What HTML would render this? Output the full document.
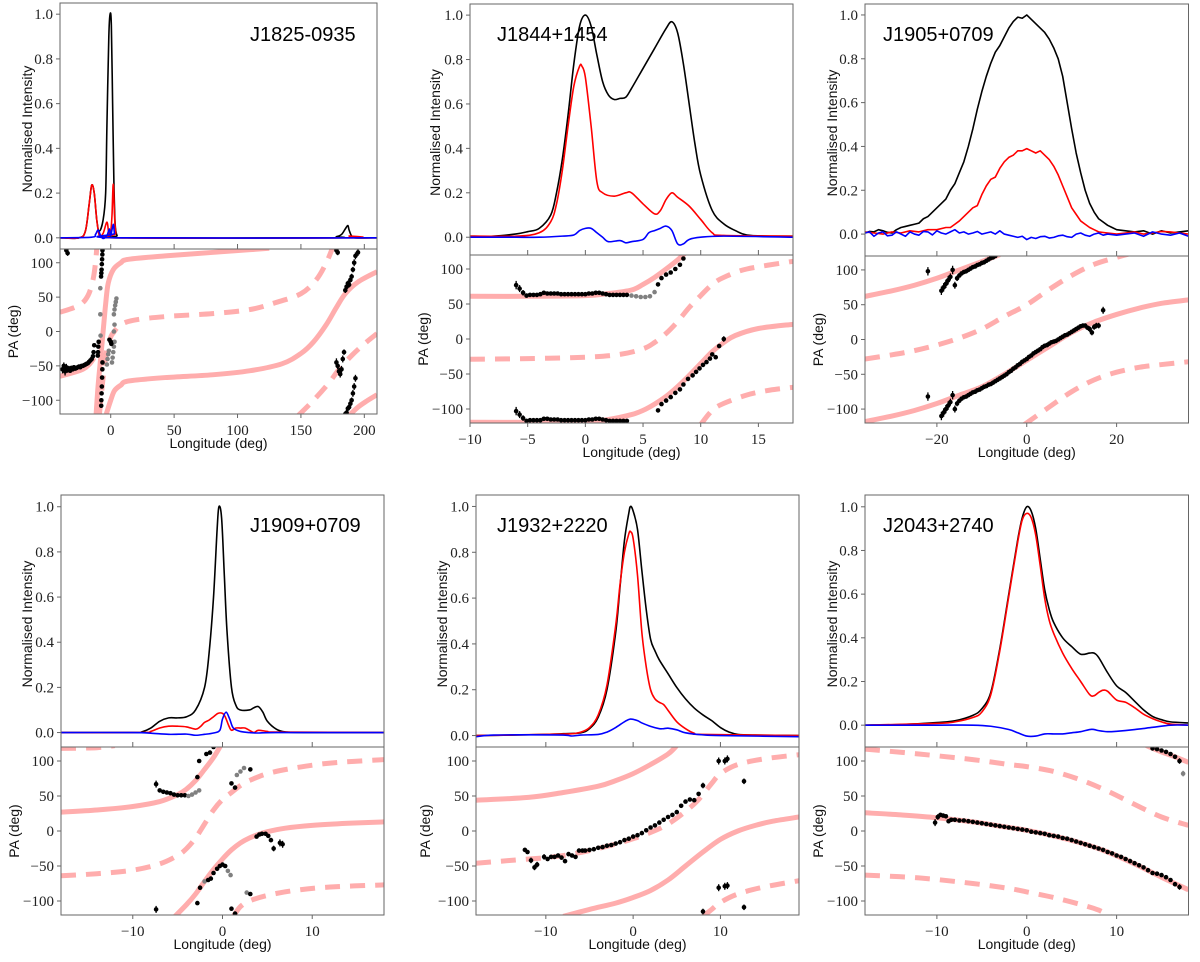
<!DOCTYPE html>
<html><head><meta charset="utf-8"><title>Pulsar polarisation profiles</title>
<style>
html,body{margin:0;padding:0;background:#fff;}
svg{display:block;}
.tick{font-family:"Liberation Serif",serif;font-size:15px;fill:#222;}
.lab{font-family:"Liberation Sans",sans-serif;font-size:14px;fill:#111;}
.ttl{font-family:"Liberation Sans",sans-serif;font-size:20px;fill:#000;}
</style></head>
<body>
<svg id="fig" width="1200" height="962" viewBox="0 0 1200 962" xmlns="http://www.w3.org/2000/svg"></svg>
<script>
// ---------- shared axis ticks ----------
const intensityTicks = [0, 0.2, 0.4, 0.6, 0.8, 1.0];
const paTicks = [-100, -50, 0, 50, 100];
const pulsarNames = ["J1825-0935","J1844+1454","J1905+0709","J1909+0709","J1932+2220","J2043+2740"];
const xTicks1 = [0,50,100,150,200];
const xTicks2 = [-10,-5,0,5,10,15];
const xTicks3 = [-20,0,20];
const xTicks4 = [-10,0,10];
const xTicks5 = [-10,0,10];
const xTicks6 = [-10,0,10];

// ---------- Panel 1: J1825-0935 ----------
const p1Total = [[-40,0],[-25,0],[-20,0.03],[-17,0.15],[-15,0.235],[-13,0.2],[-11,0.08],[-9,0.03],[-6,0.08],[-4,0.2],[-3,0.5],[-1.5,0.9],[-0.5,1.0],[0.5,0.95],[1.5,0.6],[2.5,0.25],[3.5,0.06],[5,0.01],[7,0],[170,0],[178,0.005],[182,0.015],[185,0.04],[187,0.055],[188,0.035],[190,0.008],[193,0],[210,0]];
const p1Linear = [[-40,0],[-25,0],[-20,0.03],[-17,0.15],[-15,0.235],[-13,0.2],[-11,0.08],[-9,0.01],[-6,0.02],[-3,0.07],[-1.5,0.02],[0,0.03],[1,0.1],[2,0.24],[3,0.1],[4,0.02],[6,0],[185,0],[188,0.008],[192,0],[210,0]];
const p1Circ = [[-40,0],[-15,0.003],[-12,0.015],[-10,0.035],[-8,0.01],[-6,-0.003],[-3,0.01],[-1,0.04],[0,0.01],[2,0.06],[3,0.02],[5,0],[210,0]];
const p1FitSolid = [
 [[-40,-65],[-30,-60],[-22,-55],[-17,-48],[-13,-38]],
 [[-11.5,-120],[-10,-80],[-8,-40],[-6,0],[-4,40],[-2,70],[2,90],[8,100],[14,105],[43,110],[80,115],[110,119],[125,121]],
 [[-3.5,-120],[0,-100],[3,-86],[8,-78],[14,-72],[43,-67],[80,-63],[110,-57],[135,-47],[150,-32],[160,-15],[170,10],[178,35],[185,55],[195,72],[210,87]],
 [[188,-122],[195,-110],[202,-101],[210,-92]]];
const p1FitDash = [
 [[-40,28],[-25,38],[-18,52],[-14,75],[-12,100],[-11,122]],
 [[-9,-122],[-7,-85],[-5,-50],[-3,-25],[0,-8],[2,-2],[8,10],[20,17],[45,22],[80,26],[110,32],[130,42],[150,55],[162,75],[170,100],[175,122]],
 [[148,-122],[160,-100],[172,-75],[180,-55],[190,-35],[200,-18],[210,-3]]];
const p1Points = [[-38,-55,6],[-37,-50,5],[-36,-58,6],[-35,-52,5],[-34,-56,4],[-33,-54,4],[-32,-57,3],[-31,-53,3],[-30,-55,3],[-29,-52,3],[-28,-54,2],[-27,-53,2],[-26,-52,2],[-25,-51,2],[-24,-52,2],[-23,-50,2],[-22,-50,2],[-21,-49,2],[-20,-48,2],[-19,-47,2],[-18,-46,2],[-17,-44,2],[-16,-42,2],[-15,-40,2],[-14,-36,2],[-13.5,-30,2],[-13,-20,2],[-35,118,5],[-34,114,4],
 [-6.5,118,3],[-6.6,112,3],[-6.8,105,3],[-7,98,3],[-7.2,90,3],[-7.4,85,3],[-7.6,80,3],[-8.2,63,2,1],[-8.2,25,2,1],[-8,-6,2,1],[-9.5,-15,2],[-9.8,-22,2],[-10,-30,2],[-10.2,-35,2],[-6.5,-45,2],[-6.6,-55,2],[-6.8,-67,2],[-7,-80,3],[-7.2,-90,3],[-7.4,-100,3],[-7.5,-108,3],
 [-3,-48,2,1],[-2.5,-40,2,1],[-2,-33,2,1],[-1.5,-28,2,1],[1,-45,2,1],[1.5,-38,2,1],[2,-30,2,1],[2.5,-22,2,1],[3,-15,2,1],[-1,-12,2],[0,-15,2],[0.5,-18,2],[2.5,25,2,1],[3,32,2,1],[3.5,38,2,1],[4,43,2,1],[4.5,48,2,1],[3,10,2,1],[2.5,0,2,1],
 [178,-45,6],[179,-50,5],[180,-58,5],[181,-62,5],[182,-55,5],[183,-40,5],[184,-30,4],[178,118,4],[179,115,4],
 [185,60,4],[186,65,4],[187,70,4],[188,68,4],[189,75,4],[190,80,4],[191,90,4],[192,100,5],[193,110,5],[195,115,5],
 [185,-120,4],[186,-118,4],[187,-112,4],[188,-110,4],[189,-105,4],[190,-100,4],[191,-90,5],[192,-80,5],[193,-68,5]];

// ---------- Panel 2: J1844+1454 ----------
const p2Total = [[-10,0.005],[-8,0.005],[-6,0.015],[-5,0.025],[-4,0.04],[-3,0.1],[-2.5,0.2],[-2,0.35],[-1.5,0.55],[-1,0.78],[-0.5,0.95],[0,1.0],[0.5,0.95],[1,0.82],[1.5,0.7],[2,0.64],[2.5,0.62],[3,0.625],[3.5,0.63],[4,0.67],[5,0.76],[6,0.85],[7,0.94],[7.5,0.97],[8,0.92],[8.5,0.78],[9,0.6],[9.5,0.42],[10,0.28],[11,0.12],[12,0.06],[13,0.03],[14,0.01],[16,0.005],[18,0.005]];
const p2Linear = [[-10,0.005],[-6,0.005],[-4,0.02],[-3,0.07],[-2.5,0.15],[-2,0.3],[-1.5,0.5],[-1,0.68],[-0.5,0.77],[-0.3,0.77],[0,0.72],[0.5,0.5],[1,0.25],[1.5,0.2],[2.5,0.185],[3.5,0.2],[4,0.2],[5,0.15],[6,0.105],[6.5,0.12],[7,0.17],[7.5,0.2],[8,0.18],[9,0.14],[10,0.08],[11,0.02],[12,0.008],[18,0.005]];
const p2Circ = [[-10,0],[-8,0],[-6,0],[-4,0],[-2,0.005],[-1,0.01],[-0.5,0.03],[0,0.04],[0.5,0.04],[1,0.02],[1.5,0],[2,-0.02],[3,-0.015],[3.5,-0.025],[4,-0.02],[5,-0.01],[5.5,0.02],[6,0.03],[6.5,0.04],[7,0.05],[7.5,0.03],[8,-0.03],[8.5,-0.03],[9,-0.01],[10,0],[12,0.005],[18,0]];
const p2FitSolid = [
 [[-10,61],[-5,61],[0,62],[2,65],[4,70],[5,78],[6,88],[7,100],[8,113],[8.6,122]],
 [[-10,-119],[-5,-119],[0,-118],[2,-115],[4,-108],[5,-102],[6,-93],[7,-82],[8,-68],[9,-52],[10,-35],[11,-18],[12,-5],[13,5],[15,15],[18,21]]];
const p2FitDash = [
 [[-10,-29],[-5,-28],[0,-26],[3,-22],[5,-14],[6,-5],[7,8],[8,25],[9,45],[10,62],[11,78],[12,88],[14,100],[18,111]],
 [[10,-122],[11,-102],[12,-92],[14,-80],[16,-73],[18,-69]]];
const p2Points = [[-6,77,6],[-5.7,72,5],[-5.4,66,4],[-5.1,62,3],[-4.8,63,2],[-4.5,63,2],[-4.2,63,2],[-3.9,64,2],[-3.6,66,2],[-3.3,65,2],[-3,65,2],[-2.7,65,2],[-2.4,65,2],[-2.1,64,2],[-1.8,64,2],[-1.5,64,2],[-1.2,64,2],[-0.9,64,2],[-0.6,64,2],[-0.3,64,2],[0,64,2],[0.3,65,2],[0.6,65,2],[0.9,66,2],[1.2,66,2],[1.5,65,2],[1.8,64,2],[2.1,63,2],[2.4,63,2],[2.7,63,2],[3,63,2],[3.3,63,2],[3.6,63,2],[4,62,2,1],[4.4,61,2,1],[4.8,60,2,1],[5.2,60,2,1],[5.6,61,2,1],[6,67,2,1],[6.3,78,2],[6.6,87,2],[7,92,2],[7.4,95,2],[7.8,100,2],[8.2,106,2],[8.5,115,2],
 [-6,-103,6],[-5.7,-108,5],[-5.4,-113,4],[-5.1,-117,3],[-4.8,-116,2],[-4.5,-116,2],[-4.2,-116,2],[-3.9,-116,2],[-3.6,-114,2],[-3.3,-114,2],[-3,-115,2],[-2.7,-115,2],[-2.4,-115,2],[-2.1,-116,2],[-1.8,-116,2],[-1.5,-116,2],[-1.2,-116,2],[-0.9,-116,2],[-0.6,-116,2],[-0.3,-116,2],[0,-116,2],[0.3,-115,2],[0.6,-115,2],[0.9,-114,2],[1.2,-114,2],[1.5,-115,2],[1.8,-116,2],[2.1,-117,2],[2.4,-117,2],[2.7,-117,2],[3,-117,2],[3.3,-117,2],[3.6,-117,2],
 [6.3,-102,2],[6.6,-93,2],[7,-88,2],[7.4,-83,2],[7.8,-77,2],[8.2,-72,2],[8.5,-65,2],[8.9,-57,2],[9.3,-52,2],[9.6,-47,2],[9.9,-42,2],[10.2,-37,2],[10.5,-33,2],[10.8,-28,2],[11,-22,2],[11.3,-26,2],[11.6,-10,3],[12,0,4]];

// ---------- Panel 3: J1905+0709 ----------
const p3Total = [[-36,0.005],[-35,0.012],[-34,0.01],[-33,0.02],[-32,0.015],[-31,0.008],[-30,0.005],[-29,0.02],[-28,0.03],[-27,0.035],[-26,0.04],[-25,0.045],[-24,0.05],[-23,0.07],[-22,0.08],[-21,0.1],[-20,0.12],[-19,0.14],[-18,0.16],[-17,0.2],[-16,0.23],[-15,0.28],[-14,0.33],[-13,0.4],[-12,0.48],[-11,0.57],[-10,0.65],[-9,0.72],[-8,0.78],[-7,0.83],[-6,0.86],[-5,0.9],[-4,0.94],[-3,0.97],[-2,0.99],[-1,0.985],[0,1.0],[1,0.98],[2,0.96],[3,0.94],[4,0.92],[5,0.89],[6,0.85],[7,0.8],[8,0.72],[9,0.6],[10,0.48],[11,0.37],[12,0.28],[13,0.2],[14,0.14],[15,0.1],[16,0.07],[17,0.055],[18,0.04],[19,0.03],[20,0.02],[22,0.015],[24,0.01],[26,0.015],[28,0.0],[30,0.015],[32,0.005],[34,0.01],[36,0.015]];
const p3Linear = [[-36,0.01],[-34,0.005],[-32,0.0],[-30,0.01],[-28,0.005],[-26,0.015],[-24,0.01],[-22,0.02],[-20,0.02],[-18,0.03],[-17,0.03],[-16,0.045],[-15,0.06],[-14,0.08],[-13,0.1],[-12,0.12],[-11,0.13],[-10,0.18],[-9,0.22],[-8,0.25],[-7,0.26],[-6,0.3],[-5,0.33],[-4,0.35],[-3,0.36],[-2,0.38],[-1,0.38],[0,0.39],[1,0.38],[2,0.37],[3,0.38],[4,0.36],[5,0.34],[6,0.31],[7,0.27],[8,0.22],[9,0.17],[10,0.12],[11,0.09],[12,0.06],[13,0.045],[14,0.03],[15,0.02],[16,0.01],[18,0.005],[20,0.0],[22,0.005],[24,0.01],[26,0.0],[28,0.005],[30,0.012],[32,0.01],[34,0.005],[36,0.0]];
const p3Circ = [[-36,0.005],[-35,0.01],[-34,-0.01],[-33,0.005],[-32,0.01],[-31,-0.008],[-30,-0.005],[-29,0.01],[-28,0.0],[-27,-0.01],[-26,0.01],[-25,0.0],[-24,-0.005],[-23,0.012],[-22,0.01],[-21,-0.004],[-20,0.015],[-19,0.005],[-18,0.0],[-17,0.01],[-16,0.02],[-15,0.005],[-14,0.01],[-13,0.0],[-12,0.005],[-11,0.012],[-10,0.0],[-9,0.005],[-8,0.01],[-7,0.0],[-6,0.015],[-5,0.0],[-4,-0.005],[-3,-0.01],[-2,-0.015],[-1,-0.01],[0,-0.025],[1,-0.015],[2,-0.02],[3,-0.012],[4,-0.01],[5,-0.018],[6,-0.015],[7,-0.008],[8,-0.005],[9,-0.012],[10,-0.015],[11,0.0],[12,0.005],[13,-0.005],[14,-0.01],[15,0.0],[16,0.005],[17,-0.005],[18,0.0],[20,-0.005],[22,0.0],[24,0.005],[26,-0.01],[28,0.01],[30,0.0],[32,-0.005],[34,0.005],[36,-0.01]];
const p3FitSolid = [
 [[-36,62],[-30,70],[-25,78],[-20,88],[-15,100],[-10,112],[-6,122]],
 [[-36,-118],[-30,-110],[-25,-102],[-20,-92],[-15,-80],[-10,-68],[-5,-50],[0,-30],[5,-10],[10,10],[15,25],[20,36],[25,45],[30,52],[36,57]]];
const p3FitDash = [
 [[-36,-28],[-30,-22],[-25,-16],[-20,-8],[-15,2],[-10,15],[-5,33],[0,50],[5,72],[10,92],[15,108],[20,118],[24,125]],
 [[-0.5,-122],[5,-97],[10,-75],[15,-58],[20,-47],[25,-40],[30,-36],[36,-32]]];
const p3Points = [[-22,98,6],[-22,-82,6],
 [-19,-110,6],[-18.5,-105,6],[-18,-100,6],[-17.5,-95,6],[-17,-90,5],[-16.5,-80,6],[-16,-100,5],[-15.5,-92,4],[-15,-88,3],[-14.5,-85,2],[-14,-83,2],[-13.5,-82,2],[-13,-80,2],[-12.5,-78,2],[-12,-76,2],[-11.5,-75,2],[-11,-73,2],[-10.5,-72,2],[-10,-70,2],[-9.5,-68,2],[-9,-67,2],[-8.5,-65,2],[-8,-64,2],[-7.5,-62,2],[-7,-60,2],[-6.5,-58,2],[-6,-56,2],[-5.5,-54,2],[-5,-52,2],[-4.5,-50,2],[-4,-47,2],[-3.5,-45,2],[-3,-42,2],[-2.5,-40,2],[-2,-37,2],[-1.5,-35,2],[-1,-32,2],[-0.5,-30,2],[0,-28,2],[0.5,-25,2],[1,-23,2],[1.5,-20,2],[2,-18,2],[2.5,-16,2],[3,-14,2],[3.5,-11,2],[4,-9,2],[4.5,-8,2],[5,-6,2],[5.5,-4,2],[6,-3,2],[6.5,-2,2],[7,0,2],[7.5,2,2],[8,4,2],[8.5,6,2],[9,7,2],[9.5,9,2],[10,11,2],[10.5,13,2],[11,15,2],[11.5,17,2],[12,19,2],[12.5,20,2],[13,20,2],[13.5,17,3],[14,15,4],[14.5,10,4],[15,18,4],[15.5,20,4],[16,20,4],[17,42,5],
 [-19,70,6],[-18.5,75,6],[-18,80,6],[-17.5,85,6],[-17,90,5],[-16.5,100,6],[-16,78,5],[-15.5,88,4],[-15,92,3],[-14.5,95,2],[-14,97,2],[-13.5,98,2],[-13,100,2],[-12.5,102,2],[-12,104,2],[-11.5,105,2],[-11,107,2],[-10.5,108,2],[-10,110,2],[-9.5,111,2],[-9,113,2],[-8.5,115,2],[-8,117,2],[-7.5,118,2],[-7,120,2]];

// ---------- Panel 4: J1909+0709 ----------
const p4Total = [[-18,0],[-10,0],[-9,0.003],[-8,0.02],[-7,0.05],[-6,0.065],[-5,0.065],[-4,0.07],[-3,0.1],[-2,0.2],[-1.5,0.35],[-1,0.6],[-0.6,0.9],[-0.4,1.0],[-0.1,0.95],[0.2,0.7],[0.5,0.45],[1,0.2],[1.5,0.12],[2,0.1],[3,0.1],[3.5,0.11],[4,0.115],[4.5,0.09],[5,0.05],[6,0.015],[7,0.003],[9,0],[18,0]];
const p4Linear = [[-18,0],[-9,0],[-8,0.005],[-7,0.02],[-6,0.028],[-5,0.028],[-4,0.025],[-3,0.015],[-2.5,0.025],[-2,0.045],[-1.5,0.055],[-1,0.07],[-0.5,0.085],[0,0.085],[0.3,0.07],[0.7,0.03],[1,0.01],[1.5,0.02],[2,0.02],[2.5,0.02],[3,0.01],[3.5,0.0],[4,0.01],[5,0.005],[6,0.002],[18,0]];
const p4Circ = [[-18,0],[-10,0],[-8,-0.003],[-6,-0.008],[-4,-0.007],[-3,-0.012],[-2,-0.008],[-1,-0.002],[-0.3,0.01],[0,0.06],[0.4,0.09],[0.8,0.06],[1.2,0.02],[2,0.005],[3,0.0],[4,-0.002],[6,0],[18,0]];
const p4FitSolid = [
 [[-18,27],[-14,30],[-10,35],[-7,42],[-5,52],[-4,60],[-3,72],[-2,88],[-1,105],[-0.2,122]],
 [[-5.3,-122],[-4,-105],[-3,-90],[-2,-72],[-1,-55],[0,-40],[1,-27],[2,-17],[3,-10],[4,-5],[5,-1],[7,4],[10,8],[14,11],[18,13]]];
const p4FitDash = [
 [[-18,-64],[-14,-61],[-10,-56],[-7,-47],[-5,-35],[-4,-25],[-3,-10],[-2,10],[-1,30],[0,45],[1,55],[2,65],[3,72],[5,82],[8,90],[12,97],[18,102]],
 [[1.2,-122],[2,-108],[3,-100],[5,-92],[8,-85],[12,-80],[18,-77]],
 [[-18,118],[-14,119],[-12,122]]];
const p4Points = [[-7.4,67,5],[-7,58,2],[-6.6,56,2],[-6.2,55,2],[-5.8,54,2],[-5.4,52,2],[-5,51,2],[-4.6,51,2],[-4.2,51,2],[-3.8,50,2,1],[-3.4,52,2,1],[-3,55,2,1],[-2.6,58,2,1],[-2.8,77,2],[-2.6,100,2],[-1.8,110,2],[-1.4,112,2],[-1.0,120,2],[1.6,80,2,1],[2.0,85,2,1],[2.4,90,2,1],[3.1,88,2],[1,68,2],[1.4,62,2],
 [-7.4,-112,5],[-2.8,-103,2],[-2.5,-81,2],[-2,-72,2,1],[-1.6,-70,2],[-1.3,-68,2],[-1,-60,2],[-0.6,-54,2],[-0.3,-50,2],[0,-48,2],[0.3,-50,2],[0.6,-57,2,1],[0.9,-63,2,1],[1,-111,2],[1.4,-118,2],[2.7,-88,2,1],[3.1,-90,2],
 [3.8,-8,2],[4.1,-5,2],[4.4,-4,2],[4.8,-4,2],[5.1,-7,2],[5.4,-13,3],[5.7,-25,4],[6.4,-17,5],[6.7,-19,5]];

// ---------- Panel 5: J1932+2220 ----------
const p5Total = [[-18,0],[-14,0.002],[-10,0.005],[-8,0.008],[-6,0.012],[-5,0.03],[-4,0.08],[-3,0.2],[-2,0.45],[-1.5,0.65],[-1,0.85],[-0.5,0.97],[-0.3,1.0],[0,0.98],[0.5,0.9],[1,0.72],[1.5,0.55],[2,0.42],[2.5,0.37],[3,0.33],[4,0.27],[5,0.21],[6,0.16],[7,0.12],[8,0.09],[9,0.065],[10,0.035],[11,0.015],[12,0.005],[14,0.002],[19,0]];
const p5Linear = [[-18,0],[-10,0.005],[-7,0.008],[-6,0.015],[-5,0.035],[-4,0.09],[-3,0.22],[-2,0.48],[-1.5,0.66],[-1,0.8],[-0.5,0.88],[-0.3,0.89],[0,0.86],[0.5,0.7],[1,0.45],[1.5,0.3],[2,0.2],[2.5,0.16],[3,0.145],[3.5,0.135],[4,0.11],[5,0.06],[6,0.03],[7,0.01],[8,0.005],[19,0]];
const p5Circ = [[-18,-0.005],[-16,0.002],[-12,0.003],[-8,0.002],[-7,-0.002],[-6,0.002],[-4,0.005],[-3,0.015],[-2,0.035],[-1,0.06],[-0.3,0.072],[0.5,0.065],[1,0.055],[2,0.04],[3,0.03],[3.5,0.03],[4,0.032],[5,0.025],[6,0.012],[8,0.003],[10,0.0],[19,-0.005]];
const p5FitSolid = [
 [[-18,44],[-12,48],[-8,55],[-4,64],[-2,72],[0,82],[2,95],[4,110],[5,122]],
 [[-8,-122],[-5,-112],[-2,-103],[0,-95],[2,-85],[4,-70],[6,-50],[8,-30],[10,-12],[12,0],[14,8],[16,14],[19,20]]];
const p5FitDash = [
 [[-18,-46],[-14,-42],[-10,-38],[-7,-33],[-4,-25],[-1,-15],[2,-2],[4,10],[6,28],[7.5,45],[9,68],[10,82],[12,95],[15,103],[19,109]],
 [[8,-122],[9,-112],[10,-102],[12,-90],[15,-80],[19,-71]]];
const p5Points = [[-12.4,-27,3],[-12.1,-30,3],[-11.7,-42,4],[-11.3,-52,4],[-11,-48,4],[-10.2,-37,4],[-9.8,-40,3],[-9.4,-37,3],[-9,-37,3],[-8.6,-35,3],[-8.2,-38,3],[-7.8,-43,3],[-7.4,-33,3],[-7,-35,3],[-6.6,-37,2],[-6.2,-28,2],[-5.8,-28,2],[-5.5,-28,2],[-5,-27,2],[-4.5,-26,2],[-4,-24,2],[-3.5,-23,2],[-3,-21,2],[-2.5,-20,2],[-2,-18,2],[-1.5,-16,2],[-1,-13,2],[-0.5,-11,2],[0,-8,2],[0.5,-6,2],[1,-3,2],[1.5,1,2],[2,5,2],[2.5,8,2],[3,12,2],[3.5,16,2],[4,20,2],[4.5,23,2],[5,27,2],[5.5,36,2],[6,42,2],[6.5,45,2],[7,44,2],[7.5,53,2],[8,65,4],
 [9.8,100,5],[10.5,100,5],[10.8,103,5],[12.7,71,4],[9.8,-81,5],[10.5,-79,5],[10.8,-78,5],[8,-115,4],[12.7,-109,4]];

// ---------- Panel 6: J2043+2740 ----------
const p6Total = [[-18,0],[-14,0.003],[-10,0.012],[-8,0.02],[-6,0.045],[-5,0.075],[-4,0.15],[-3,0.35],[-2,0.6],[-1,0.85],[-0.5,0.95],[0,1.0],[0.5,0.98],[1,0.9],[1.5,0.76],[2,0.62],[2.5,0.53],[3,0.47],[4,0.4],[5,0.36],[6,0.325],[7,0.33],[7.5,0.33],[8,0.31],[9,0.24],[10,0.18],[11,0.15],[12,0.11],[13,0.07],[14,0.04],[15,0.025],[16,0.015],[18,0.01]];
const p6Linear = [[-18,0],[-10,0.008],[-8,0.015],[-6,0.035],[-5,0.06],[-4,0.14],[-3,0.34],[-2,0.59],[-1,0.84],[-0.5,0.94],[0,0.97],[0.5,0.95],[1,0.87],[1.5,0.73],[2,0.58],[2.5,0.48],[3,0.42],[4,0.33],[5,0.26],[6,0.2],[7,0.14],[7.5,0.135],[8,0.15],[8.5,0.16],[9,0.155],[10,0.115],[11,0.105],[12,0.08],[13,0.05],[14,0.03],[15,0.015],[16,0.005],[18,0]];
const p6Circ = [[-18,0],[-10,0],[-6,0],[-4,-0.005],[-2,-0.02],[-1,-0.035],[0,-0.05],[1,-0.05],[2,-0.04],[3,-0.04],[4,-0.04],[5,-0.035],[6,-0.03],[7,-0.02],[7.5,-0.02],[8,-0.025],[9,-0.03],[10,-0.028],[12,-0.02],[14,-0.01],[16,0],[18,0]];
const p6FitSolid = [
 [[-18,26],[-14,23],[-10,19],[-6,13],[-3,7],[0,1],[3,-7],[6,-17],[9,-30],[12,-47],[15,-66],[18,-84]],
 [[13.3,122],[15,113],[16.5,106],[18,98]]];
const p6FitDash = [
 [[-18,117],[-12,110],[-6,102],[-2,95],[0,92],[3,85],[6,73],[9,57],[12,38],[15,20],[18,8]],
 [[-18,-63],[-12,-67],[-6,-75],[-2,-82],[0,-87],[3,-95],[6,-105],[8,-113],[9.3,-122]]];
const p6Points = [[-10.2,12,5],[-9.9,20,4],[-9.6,23,3],[-9.3,22,2],[-9,21,2],[-8.7,14,2],[-8.4,16,2],[-8,16,2],[-7.5,15,2],[-7,15,2],[-6.5,14,2],[-6,13,2],[-5.5,12,2],[-5,11,2],[-4.5,10,2],[-4,9,2],[-3.5,8,2],[-3,7,2],[-2.5,6,2],[-2,5,2],[-1.5,4,2],[-1,3,2],[-0.5,2,2],[0,1,2],[0.5,-1,2],[1,-2,2],[1.5,-3,2],[2,-4,2],[2.5,-6,2],[3,-7,2],[3.5,-8,2],[4,-10,2],[4.5,-11,2],[5,-13,2],[5.5,-15,2],[6,-17,2],[6.5,-19,2],[7,-21,2],[7.5,-23,2],[8,-25,2],[8.5,-27,2],[9,-30,2],[9.5,-32,2],[10,-35,2],[10.5,-37,2],[11,-40,2],[11.5,-43,2],[12,-46,2],[12.5,-49,2],[13,-52,2],[13.5,-56,2],[14,-60,2],[14.5,-61,2],[15,-63,2],[15.5,-66,2],[16,-70,2],[16.5,-76,3],[17,-80,4],
 [14,118,2],[14.5,117,2],[15,115,2],[15.5,113,2],[16,110,2],[16.5,106,3],[17,100,4],[17.4,82,4,1]];

// ---------- layout (pixel geometry, not data) ----------
const layout = [
 {L:60, R:377, top:3, mid:249, bot:414, xr:[-40,210], ir:[-0.05,1.05], titleX:250, titleY:41, ylx:27, ply:13, xt:xTicks1, smooth:true,
  tot:p1Total, lin:p1Linear, cir:p1Circ, fs:p1FitSolid, fd:p1FitDash, pts:p1Points},
 {L:470, R:793, top:4, mid:255, bot:423, xr:[-10,18], ir:[-0.08,1.05], titleX:497, titleY:41, ylx:435, ply:423, xt:xTicks2, smooth:true,
  tot:p2Total, lin:p2Linear, cir:p2Circ, fs:p2FitSolid, fd:p2FitDash, pts:p2Points},
 {L:865, R:1188.5, top:4, mid:256, bot:423, xr:[-36,36], ir:[-0.1,1.05], titleX:883, titleY:41, ylx:832, ply:818, xt:xTicks3, smooth:false,
  tot:p3Total, lin:p3Linear, cir:p3Circ, fs:p3FitSolid, fd:p3FitDash, pts:p3Points},
 {L:61, R:384, top:495, mid:747, bot:915, xr:[-18,18], ir:[-0.064,1.052], titleX:250, titleY:532, ylx:27, ply:14, xt:xTicks4, smooth:true,
  tot:p4Total, lin:p4Linear, cir:p4Circ, fs:p4FitSolid, fd:p4FitDash, pts:p4Points},
 {L:476, R:799, top:495, mid:747, bot:915, xr:[-18,19], ir:[-0.05,1.05], titleX:497, titleY:532, ylx:442, ply:425, xt:xTicks5, smooth:true,
  tot:p5Total, lin:p5Linear, cir:p5Circ, fs:p5FitSolid, fd:p5FitDash, pts:p5Points},
 {L:865, R:1188.5, top:495, mid:747, bot:915, xr:[-18,18], ir:[-0.1,1.054], titleX:883, titleY:532, ylx:832, ply:818, xt:xTicks6, smooth:true,
  tot:p6Total, lin:p6Linear, cir:p6Circ, fs:p6FitSolid, fd:p6FitDash, pts:p6Points}
];
const paRange = [-120, 120];

const NS = "http://www.w3.org/2000/svg";
const fig = document.getElementById("fig");
function mk(tag, attrs, parent){
  const e = document.createElementNS(NS, tag);
  for (const k in attrs) e.setAttribute(k, attrs[k]);
  (parent || fig).appendChild(e);
  return e;
}
function fmtMinus(v, d){ const s = d ? Math.abs(v).toFixed(d) : String(Math.abs(v)); return (v < 0 ? "\u2212" : "") + s; }
function linePath(pts){ return pts.map((p,i)=>(i?"L":"M")+p[0].toFixed(2)+","+p[1].toFixed(2)).join(""); }
function smoothPath(pts){
  if (pts.length < 3) return linePath(pts);
  let d = "M"+pts[0][0].toFixed(2)+","+pts[0][1].toFixed(2);
  for (let i=0;i<pts.length-1;i++){
    const p0=pts[Math.max(0,i-1)], p1=pts[i], p2=pts[i+1], p3=pts[Math.min(pts.length-1,i+2)];
    const c1=[p1[0]+(p2[0]-p0[0])/6, p1[1]+(p2[1]-p0[1])/6];
    const c2=[p2[0]-(p3[0]-p1[0])/6, p2[1]-(p3[1]-p1[1])/6];
    d += "C"+c1[0].toFixed(2)+","+c1[1].toFixed(2)+" "+c2[0].toFixed(2)+","+c2[1].toFixed(2)+" "+p2[0].toFixed(2)+","+p2[1].toFixed(2);
  }
  return d;
}

layout.forEach((P, idx) => {
  const g = mk("g", {});
  
  
  const sx = v => P.L + (v - P.xr[0]) / (P.xr[1] - P.xr[0]) * (P.R - P.L);
  const syI = v => P.mid - (v - P.ir[0]) / (P.ir[1] - P.ir[0]) * (P.mid - P.top);
  const syP = v => P.bot - (v - paRange[0]) / (paRange[1] - paRange[0]) * (P.bot - P.mid);

  const defs = mk("defs", {}, g);
  const c1 = mk("clipPath", {id:"ci"+idx}, defs);
  mk("rect", {x:P.L, y:P.top, width:P.R-P.L, height:P.mid-P.top}, c1);
  const c2 = mk("clipPath", {id:"cp"+idx}, defs);
  mk("rect", {x:P.L, y:P.mid, width:P.R-P.L, height:P.bot-P.mid}, c2);

  const gi = mk("g", {"clip-path":"url(#ci"+idx+")"}, g);
  const series = [[P.tot,"#000","total-intensity-line"],[P.lin,"#ff0000","linear-polarisation-line"],[P.cir,"#0000ff","circular-polarisation-line"]];
  series.forEach(s => {
    const px = s[0].map(p=>[sx(p[0]), syI(p[1])]);
    const e = mk("path", {d: P.smooth ? smoothPath(px) : linePath(px), fill:"none", stroke:s[1], "stroke-width":1.6, "stroke-linejoin":"round"}, gi);
    
    
  });

  const gp = mk("g", {"clip-path":"url(#cp"+idx+")"}, g);
  P.fs.forEach(c => {
    const e = mk("path", {d: smoothPath(c.map(p=>[sx(p[0]), syP(p[1])])), fill:"none", stroke:"#ffadad", "stroke-width":5}, gp);
    
    
  });
  P.fd.forEach(c => {
    const e = mk("path", {d: smoothPath(c.map(p=>[sx(p[0]), syP(p[1])])), fill:"none", stroke:"#ffadad", "stroke-width":5, "stroke-dasharray":"15 10"}, gp);
    
    
  });
  P.pts.forEach(p => {
    const col = p[3] ? "#808080" : "#000";
    const x = sx(p[0]), y = syP(p[1]);
    const eb = mk("line", {x1:x, x2:x, y1:syP(p[1]+p[2]), y2:syP(p[1]-p[2]), stroke:col, "stroke-width":1.3}, gp);
    
    
    const c = mk("circle", {cx:x, cy:y, r:2.3, fill:col}, gp);
    
    
  });

  const f1 = mk("rect", {x:P.L, y:P.top, width:P.R-P.L, height:P.mid-P.top, fill:"none", stroke:"#666", "stroke-width":1}, g);
  
  
  const f2 = mk("rect", {x:P.L, y:P.mid, width:P.R-P.L, height:P.bot-P.mid, fill:"none", stroke:"#666", "stroke-width":1}, g);
  
  

  intensityTicks.forEach(t => {
    const y = syI(t);
    mk("line", {x1:P.L-4, x2:P.L, y1:y, y2:y, stroke:"#666"}, g);
    const tx = mk("text", {x:P.L-7, y:y+5, "text-anchor":"end", class:"tick"}, g);
    tx.textContent = t.toFixed(1);
    
    
  });
  paTicks.forEach(t => {
    const y = syP(t);
    mk("line", {x1:P.L-4, x2:P.L, y1:y, y2:y, stroke:"#666"}, g);
    const tx = mk("text", {x:P.L-7, y:y+5, "text-anchor":"end", class:"tick"}, g);
    tx.textContent = fmtMinus(t);
    
    
  });
  P.xt.forEach(t => {
    const x = sx(t);
    mk("line", {x1:x, x2:x, y1:P.mid-5, y2:P.mid, stroke:"#666"}, g);
    mk("line", {x1:x, x2:x, y1:P.bot, y2:P.bot+4, stroke:"#666"}, g);
    const tx = mk("text", {x:x, y:P.bot+21, "text-anchor":"middle", class:"tick"}, g);
    tx.textContent = fmtMinus(t);
    
    
  });

  const yl = (P.top + P.mid) / 2 + 3;
  const l1 = mk("text", {x:P.ylx+5, y:yl, "text-anchor":"middle", class:"lab", transform:"rotate(-90 "+(P.ylx+5)+" "+yl+")"}, g);
  l1.textContent = "Normalised Intensity";
  
  
  const yp = (P.mid + P.bot) / 2;
  const l2 = mk("text", {x:P.ply+5, y:yp, "text-anchor":"middle", class:"lab", transform:"rotate(-90 "+(P.ply+5)+" "+yp+")"}, g);
  l2.textContent = "PA (deg)";
  
  
  const l3 = mk("text", {x:(P.L+P.R)/2, y:P.bot+34, "text-anchor":"middle", class:"lab"}, g);
  l3.textContent = "Longitude (deg)";
  
  
  const tt = mk("text", {x:P.titleX, y:P.titleY, class:"ttl"}, g);
  tt.textContent = pulsarNames[idx];
  
  
});
</script>
</body></html>
